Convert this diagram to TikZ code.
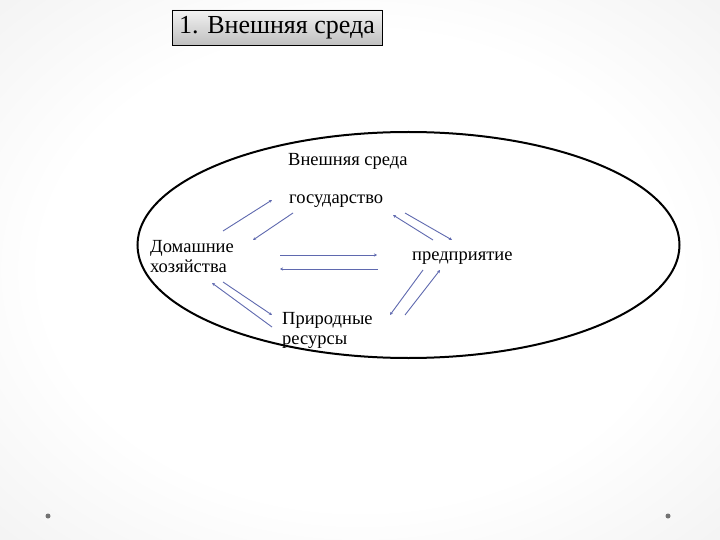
\documentclass[tikz,border=0pt]{standalone}
\usepackage{fontspec}
\setmainfont{Liberation Serif}
\usetikzlibrary{arrows.meta,shadings}
\definecolor{arr}{RGB}{95,105,175}
\pgfdeclareradialshading{bgshade}{\pgfpoint{0bp}{0bp}}{color(0bp)=(white); color(22bp)=(white); color(40bp)=(black!6); color(50bp)=(black!15)}
\begin{document}
\begin{tikzpicture}[x=1pt,y=-1pt,
  lbl/.style={font=\fontsize{18.5}{20}\selectfont, align=left, inner sep=1pt, anchor=west},
  ar/.style={draw=arr, line width=0.9pt, -{Stealth[length=3pt,width=3pt]}}]
\useasboundingbox (0,0) rectangle (720,540);
\shade[shading=bgshade] (0,0) rectangle (720,540);
\node[draw=black, line width=0.8pt, top color=black!5, bottom color=black!25, minimum width=210pt, minimum height=35pt, font=\fontsize{26}{28}\selectfont, inner sep=0pt] (title) at (277,27.5) {1. Внешняя среда};
\draw[line width=2pt] (408.5,245) ellipse (271 and 113);
\node[lbl] (env) at (287,161) {Внешняя среда};
\node[lbl] (gov) at (288,201) {государство};
\node[lbl] (hh) at (149,257) {Домашние\\хозяйства};
\node[lbl] (ent) at (411,258) {предприятие};
\node[lbl] (nat) at (281,330) {Природные\\ресурсы};
\coordinate (a1) at (223,231); \coordinate (a2) at (272,200);
\coordinate (b1) at (293,213); \coordinate (b2) at (253,240);
\coordinate (c1) at (405,213); \coordinate (c2) at (452,240);
\coordinate (d1) at (433,240); \coordinate (d2) at (393,215);
\coordinate (e1) at (280,255); \coordinate (e2) at (377,255);
\coordinate (f1) at (378,269); \coordinate (f2) at (280,269);
\coordinate (g1) at (423,270); \coordinate (g2) at (390,315);
\coordinate (h1) at (405,315); \coordinate (h2) at (440,270);
\coordinate (i1) at (223,282); \coordinate (i2) at (272,315);
\coordinate (j1) at (272,327); \coordinate (j2) at (212,283);
\foreach \p in {a,b,c,d,e,f,g,h,i,j} \draw[ar] (\p1) -- (\p2);
\fill[black!55] (48,516) circle (2.5);
\fill[black!55] (668,516) circle (2.5);
\end{tikzpicture}
\end{document}
